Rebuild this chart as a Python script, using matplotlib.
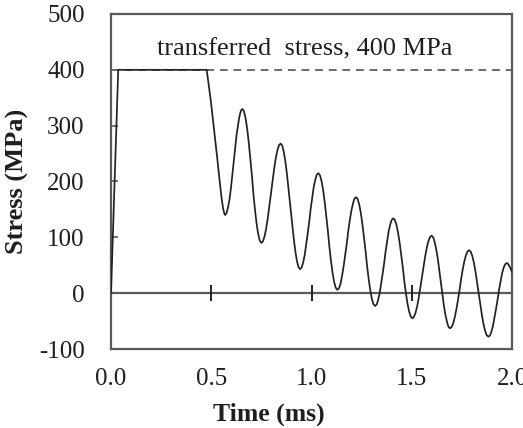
import matplotlib
matplotlib.use("Agg")
import matplotlib.pyplot as plt

# ---- data ----
time_ms = [0.000, 0.036, 0.477,
           0.483, 0.490, 0.498, 0.505, 0.513, 0.520, 0.528, 0.535, 0.542, 0.548, 0.554, 0.559, 0.564, 0.569,
           0.576, 0.583, 0.591, 0.598, 0.605, 0.612, 0.619, 0.626, 0.634, 0.641, 0.648, 0.655,
           0.663, 0.671, 0.679, 0.687, 0.695, 0.703, 0.710, 0.718, 0.726, 0.734, 0.742, 0.750,
           0.758, 0.766, 0.774, 0.782, 0.790, 0.798, 0.806, 0.814, 0.822, 0.830, 0.838, 0.846,
           0.854, 0.862, 0.870, 0.878, 0.886, 0.894, 0.903, 0.911, 0.919, 0.927, 0.935, 0.943,
           0.951, 0.958, 0.966, 0.973, 0.981, 0.989, 0.996, 1.004, 1.011, 1.019, 1.026, 1.034,
           1.042, 1.050, 1.058, 1.066, 1.074, 1.082, 1.089, 1.097, 1.105, 1.113, 1.121, 1.129,
           1.137, 1.145, 1.152, 1.160, 1.168, 1.176, 1.183, 1.191, 1.199, 1.207, 1.214, 1.222,
           1.230, 1.238, 1.246, 1.254, 1.262, 1.270, 1.277, 1.285, 1.293, 1.301, 1.309, 1.317,
           1.325, 1.332, 1.340, 1.347, 1.355, 1.363, 1.370, 1.378, 1.385, 1.393, 1.400, 1.408,
           1.416, 1.424, 1.432, 1.440, 1.448, 1.456, 1.463, 1.471, 1.479, 1.487, 1.495, 1.503,
           1.511, 1.519, 1.527, 1.535, 1.543, 1.551, 1.559, 1.567, 1.575, 1.583, 1.591, 1.599,
           1.607, 1.614, 1.622, 1.630, 1.637, 1.645, 1.653, 1.660, 1.668, 1.676, 1.683, 1.691,
           1.699, 1.707, 1.715, 1.723, 1.731, 1.739, 1.746, 1.754, 1.762, 1.770, 1.778, 1.786,
           1.794, 1.802, 1.810, 1.818, 1.826, 1.834, 1.842, 1.850, 1.858, 1.866, 1.874, 1.882,
           1.890, 1.897, 1.905, 1.912, 1.920, 1.928, 1.935, 1.943, 1.950, 1.958, 1.966, 1.973,
           1.980, 1.986, 1.993, 2.000]
stress_mpa = [0, 400, 400,
              385, 366, 344, 322, 298, 274, 248, 224, 200, 181, 164, 152, 144, 140,
              143.2, 152.7, 167.7, 187.5, 210.5, 235, 259.5, 282.5, 302.3, 317.3, 326.8, 330,
              325.9, 313.9, 295, 270, 241, 210, 179, 150, 125, 106.1, 94, 90,
              93, 101.9, 116, 134.5, 156, 179, 202, 223.5, 242, 256.1, 265, 268,
              264.2, 252.9, 235.1, 211.8, 184.5, 155.5, 126.5, 99.3, 76, 58.1, 47, 43,
              45.9, 54.5, 68.1, 86, 106.8, 129, 151.2, 172, 189.9, 203.5, 212.1, 215,
              211.4, 201, 184.5, 162.8, 137.5, 110.5, 83.5, 58.3, 36.5, 20, 9.6, 6,
              8.8, 17.1, 30.2, 47.5, 67.6, 89, 110.4, 130.5, 147.8, 160.9, 169.2, 172,
              168.7, 158.9, 143.5, 123.3, 99.7, 74.5, 49.3, 25.8, 5.5, -9.9, -19.7, -23,
              -20.3, -12.5, -0.1, 16.3, 35.2, 55.5, 75.8, 94.8, 111.1, 123.5, 131.3, 134,
              131, 122, 107.9, 89.3, 67.6, 44.5, 21.4, -0.3, -18.9, -33, -42, -45,
              -42.5, -35.1, -23.4, -8, 9.9, 29, 48.1, 66, 81.4, 93.1, 100.5, 103,
              100.2, 91.9, 78.8, 61.5, 41.4, 20, -1.4, -21.5, -38.8, -51.9, -60.2, -63,
              -60.6, -53.6, -42.6, -28, -11.1, 7, 25.1, 42, 56.6, 67.6, 74.6, 77,
              74.4, 66.6, 54.4, 38.3, 19.5, -0.5, -20.5, -39.3, -55.4, -67.6, -75.4, -78,
              -75.8, -69.2, -58.7, -45, -29, -12, 5, 21, 34.7, 45.2, 51.8, 54,
              52.5, 49, 44, 38]
transferred_stress = 400
annotation = "transferred  stress, 400 MPa"
x_ticks = [0.0, 0.5, 1.0, 1.5, 2.0]
x_ticklabels = ["0.0", "0.5", "1.0", "1.5", "2.0"]
y_ticks = [-100, 0, 100, 200, 300, 400, 500]
y_ticklabels = ["-100", "0", "100", "200", "300", "400", "500"]
inner_x_ticks = [0.5, 1.0, 1.5]

plt.rcParams['font.family'] = ['Liberation Serif', 'DejaVu Serif']

W, H = 523, 428
fig = plt.figure(figsize=(W / 100, H / 100), dpi=100)
ax = fig.add_axes([111 / W, 1 - 349 / H, (512 - 111) / W, (349 - 14) / H])

spine_col = '#5a5a5a'
text_col = '#1e1e1e'

ax.axhline(transferred_stress, color='#6a6a6a', lw=1.4, ls=(0, (4, 3)), zorder=2)
ax.axhline(0, color=spine_col, lw=1.6, zorder=2)
ax.plot(inner_x_ticks, [0] * len(inner_x_ticks), ls='none', marker='|',
        ms=11.5, mew=1.4, color='#222222', zorder=3)
ax.plot(time_ms, stress_mpa, color='#222222', lw=1.25, zorder=4,
        solid_joinstyle='round', solid_capstyle='round')

ax.set_xlim(0, 2.0)
ax.set_ylim(-100, 500)
ax.set_xticks(x_ticks)
ax.set_xticklabels(x_ticklabels)
ax.set_yticks(y_ticks)
ax.set_yticklabels(y_ticklabels)

ax.tick_params(axis='x', length=0, pad=14, labelsize=18, labelcolor=text_col)
ax.tick_params(axis='y', direction='in', length=5, width=1.2, color=spine_col,
               pad=19, labelsize=18, labelcolor=text_col)

for s in ax.spines.values():
    s.set_color(spine_col)
    s.set_linewidth(1.6)

ax.text(0.967, 425, annotation, ha='center', va='baseline', fontsize=19,
        color=text_col)

ax.set_xlabel("Time (ms)", fontsize=18.5, fontweight='bold', color=text_col)
ax.xaxis.label.set_verticalalignment('center')
ax.xaxis.set_label_coords((269 - 111) / 401, (349 - 414) / 335)
ax.set_ylabel("Stress (MPa)", fontsize=19, fontweight='bold', color=text_col)
ax.yaxis.label.set_verticalalignment('center')
ax.yaxis.set_label_coords((17 - 111) / 401, 0.5)

fig.savefig("out.png", dpi=100)
